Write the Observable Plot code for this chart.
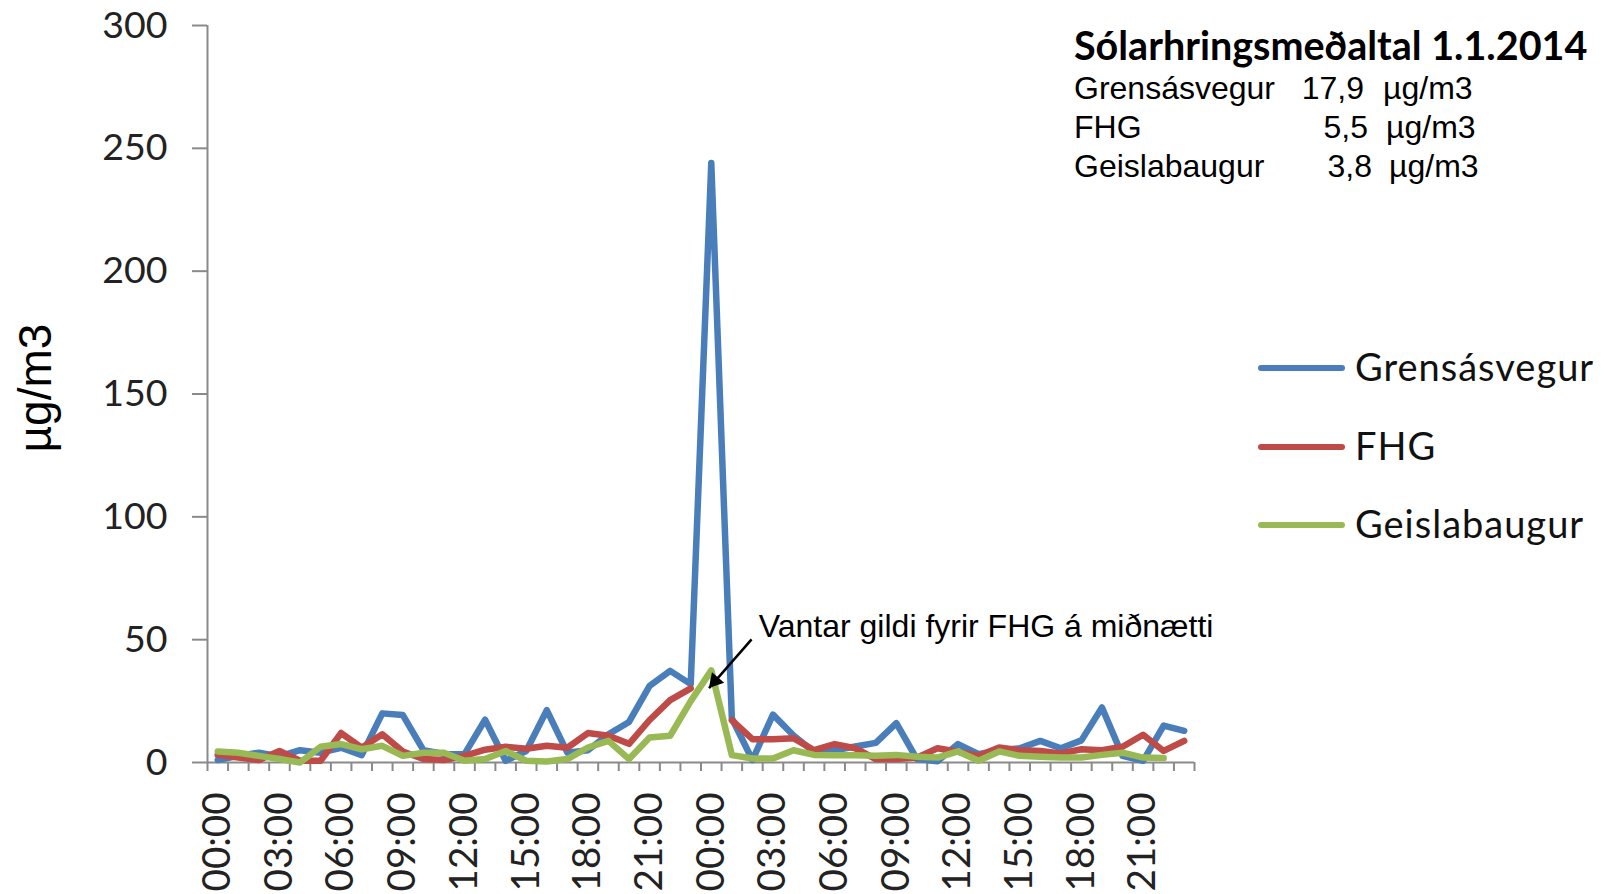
<!DOCTYPE html>
<html>
<head>
<meta charset="utf-8">
<script src="https://cdn.jsdelivr.net/npm/d3@7"></script>
<script src="https://cdn.jsdelivr.net/npm/@observablehq/plot@0.6"></script>
<style>
  html, body { margin: 0; padding: 0; background: #fff; }
  #wrap { position: relative; width: 1604px; height: 894px; overflow: hidden; }
  #chart { position: absolute; left: 0; top: 0; }
  .abs { position: absolute; white-space: nowrap; color: #000; }
  .title { font-family: Lato, sans-serif; font-weight: 700; font-size: 39.5px; }
  .stat { font-family: "Liberation Sans", Arial, sans-serif; font-size: 32px; }
  .ylab { font-family: "Liberation Sans", Arial, sans-serif; font-size: 46px; transform-origin: center center; }
  .legline { position: absolute; height: 6px; border-radius: 3px; }
  .legtxt { font-family: Lato, sans-serif; font-size: 38px; letter-spacing: 1px; color: #111; }
</style>
</head>
<body>
<div id="wrap"><div id="chart"></div></div>
<script>
// ---- data ----
const hourIndex = [0,1,2,3,4,5,6,7,8,9,10,11,12,13,14,15,16,17,18,19,20,21,22,23,
                   24,25,26,27,28,29,30,31,32,33,34,35,36,37,38,39,40,41,42,43,44,45,46,47];
const tickPositions = [0,3,6,9,12,15,18,21,24,27,30,33,36,39,42,45];
const tickLabels = ["00:00","03:00","06:00","09:00","12:00","15:00","18:00","21:00",
                    "00:00","03:00","06:00","09:00","12:00","15:00","18:00","21:00"];
const seriesNames = ["Grensásvegur", "FHG", "Geislabaugur"];
const seriesColors = ["#4A7EBB", "#BE4B48", "#98B954"];
const grensasvegur = [1,2.7,4,2.5,5,4,6,3,20,19.3,5,3.5,3.4,17.4,0.7,4.7,21.3,4,5,11.5,16.5,31.2,37.3,31.9,
                      244,18,1,19.5,11,4.3,5,6.5,8,16,1.4,0.5,7.5,3.4,5,5.8,8.8,5.8,9,22.4,2.7,0.7,15,12.9];
const fhg = [3.1,2,1,4.7,0.7,0.7,12,6,11.5,4.5,1.4,1,2.7,5.2,6.4,5.6,6.8,6,12,10.9,7.6,17.3,25.4,30.2,
             null,17.2,9.5,9.5,9.9,5,7.5,5.8,1.4,1.4,2,5.8,4.4,2.7,6.1,5,4.7,3.7,5.4,5,6.4,11.3,4.7,8.8];
const geislabaugur = [4.5,4,2.7,1.4,0,6.4,7.5,5.4,6.8,2.7,4,4,0.7,1.4,4.7,0.7,0.4,1.4,6.1,8.8,1.4,10.2,10.9,25,
                      37.5,3,1.6,1.6,5,3.1,3,3,2.7,3.1,2.3,2,4.5,0.7,4.5,2.7,2.3,2,2,3.1,4,2,1.8,null];
const yTicks = [0,50,100,150,200,250,300];
const titleText = "Sólarhringsmeðaltal 1.1.2014";
const statNames = ["Grensásvegur", "FHG", "Geislabaugur"];
const statValues = ["17,9", "5,5", "3,8"];
const statUnit = "µg/m3";
const yLabel = "µg/m3";
const noteText = "Vantar gildi fyrir FHG á miðnætti";
const noteAnchor = [{x: 26.31, y: 55.2}];
const noteArrow = [{x1: 25.96, y1: 50.1, x2: 23.89, y2: 30.3}];

// ---- build table ----
const allSeries = [grensasvegur, fhg, geislabaugur];
const rows = [];
allSeries.forEach((vals, s) => {
  hourIndex.forEach((h, i) => rows.push({series: seriesNames[s], x: h, y: vals[i]}));
});
const boundaries = [...hourIndex, 48].map(d => d - 0.5);
const labelMap = new Map(tickPositions.map((p, i) => [p, tickLabels[i]]));
const axisGrey = "#8a8a8a";

const chart = Plot.plot({
  width: 1604,
  height: 894,
  marginLeft: 207,
  marginRight: 410,
  marginTop: 25,
  marginBottom: 132,
  style: {fontFamily: "Lato, sans-serif", background: "transparent"},
  x: {domain: [-0.5, 47.5], axis: null},
  y: {domain: [0, 300], axis: null},
  color: {domain: seriesNames, range: seriesColors},
  marks: [
    Plot.axisY(yTicks, {tickSize: 15, tickPadding: 25, fontSize: 37.5, color: axisGrey, strokeWidth: 2, tickFormat: () => ""}),
    Plot.axisY(yTicks, {tickSize: 0, tickPadding: 40, fontSize: 37.5, color: "#222"}),
    Plot.axisX(boundaries, {tickSize: 9, color: axisGrey, strokeWidth: 2, tickFormat: () => ""}),
    Plot.axisX(tickPositions, {tickSize: 0, tickPadding: 30, tickRotate: -90, fontSize: 38.5, color: "#222",
                               tickFormat: d => labelMap.get(d)}),
    Plot.ruleX([-0.5], {stroke: axisGrey, strokeWidth: 2}),
    Plot.ruleY([0], {stroke: axisGrey, strokeWidth: 2}),
    Plot.line(rows, {x: "x", y: "y", z: "series", stroke: "series", strokeWidth: 6.5,
                     strokeLinejoin: "round", strokeLinecap: "round"}),
    Plot.link(noteArrow, {x1: "x1", y1: "y1", x2: "x2", y2: "y2", stroke: "#000", strokeWidth: 2.5}),
    Plot.dot(noteArrow, {x: "x2", y: "y2", symbol: "triangle", r: 6, fill: "#000", stroke: "none",
                         rotate: 221, dx: 6, dy: -7}),
    Plot.text(noteAnchor, {x: "x", y: "y", text: () => noteText, textAnchor: "start", fontSize: 32,
                           fontFamily: "'Liberation Sans', Arial, sans-serif", fill: "#000"})
  ]
});
document.getElementById("chart").appendChild(chart);

// ---- overlay texts ----
const wrap = document.getElementById("wrap");
function addDiv(cls, text, css) {
  const d = document.createElement("div");
  d.className = "abs " + cls;
  d.textContent = text;
  Object.assign(d.style, css);
  wrap.appendChild(d);
  return d;
}
addDiv("title", titleText, {left: "1074px", top: "21px"});
statNames.forEach((n, i) => {
  const top = 70 + i * 38.9;
  addDiv("stat", n, {left: "1074px", top: top + "px"});
  addDiv("stat", statValues[i], {right: (1604 - 1364 - 4 * i) + "px", top: top + "px"});
  addDiv("stat", statUnit, {left: (1383 + 3 * i) + "px", top: top + "px"});
});
const yl = addDiv("ylab", yLabel, {left: "35px", top: "388px"});
yl.style.transform = "translate(-50%, -50%) rotate(-90deg)";

seriesNames.forEach((n, i) => {
  const cy = 368 + i * 78.5;
  const l = document.createElement("div");
  l.className = "legline";
  Object.assign(l.style, {left: "1258px", width: "87px", top: (cy - 3) + "px", background: seriesColors[i]});
  wrap.appendChild(l);
  const t = addDiv("legtxt", n, {left: "1355px", top: cy + "px"});
  t.style.transform = "translateY(-55%)";
});
</script>
</body>
</html>
